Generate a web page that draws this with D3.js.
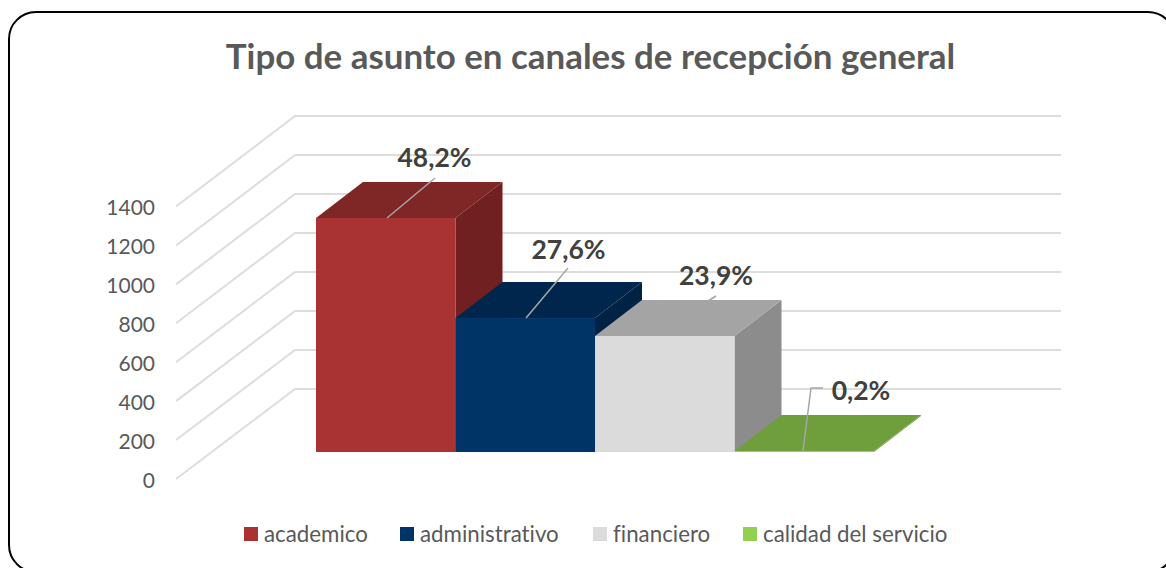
<!DOCTYPE html>
<html><head><meta charset="utf-8">
<script src="https://cdn.jsdelivr.net/npm/d3@7"></script>
<style>html,body{margin:0;padding:0;background:#fff;overflow:hidden}svg{display:block}text{font-family:Lato,"Open Sans",sans-serif;font-variant-ligatures:none}</style>
</head><body><svg id="c" width="1166" height="568"></svg>
<script>
const chartTitle = "Tipo de asunto en canales de recepción general";
const categories = ["academico","administrativo","financiero","calidad del servicio"];
const values = [1200,687,595,5];
const labels = ["48,2%","27,6%","23,9%","0,2%"];
const tickValues = [0,200,400,600,800,1000,1200,1400];
const frontColors = ["#A93333","#003366","#DBDBDB","#92D050"];
const topColors = ["#7F2626","#00264D","#A4A4A4","#6F9E3C"];
const sideColors = ["#702020","#002244","#8C8C8C","#6F9E3C"];

const svg = d3.select("#c");
svg.append("rect").attr("x",9).attr("y",12).attr("width",1166).attr("height",560).attr("rx",27)
  .attr("fill","#fff").attr("stroke","#000").attr("stroke-width",2);
svg.append("text").attr("x",590.5).attr("y",69).attr("text-anchor","middle").attr("font-size",34.9)
  .attr("font-weight",700).attr("fill","#595959").text(chartTitle);

// wall and floor projection
const yFront = d3.scaleLinear().domain([0,1400]).range([479,206.5]);
const yBack = d3.scaleLinear().domain([0,1400]).range([389,116]);
const yBar = d3.scaleLinear().domain([0,1400]).range([452,179]);
const x = d3.scaleBand().domain(categories).range([316,874]);
const depth = {dx:47, dy:-36};

const grid = svg.append("g").attr("fill","none").attr("stroke","#DDDDDD").attr("stroke-width",2);
tickValues.forEach(t=>{
  grid.append("path").attr("d",d3.line()([[176,yFront(t)],[295,yBack(t)],[1061,yBack(t)]]));
});

const axis = d3.axisLeft(yFront).tickValues(tickValues).tickSize(0).tickPadding(0).tickFormat(d3.format("d"));
const ax = svg.append("g").attr("transform","translate(155,1.5)").call(axis);
ax.select(".domain").remove();
ax.selectAll("text").attr("font-size",21).attr("fill","#595959").style("font-family","Lato");

const bars = svg.append("g");
categories.forEach((c,i)=>{
  const x0=x(c), x1=x0+x.bandwidth(), yT=yBar(values[i]), yB=yBar(0);
  const g=bars.append("g");
  g.append("path").attr("fill",sideColors[i]).attr("d",d3.line()([[x1,yT],[x1+depth.dx,yT+depth.dy],[x1+depth.dx,yB+depth.dy],[x1,yB]])+"Z");
  g.append("path").attr("fill",topColors[i]).attr("d",d3.line()([[x0,yT],[x0+depth.dx,yT+depth.dy],[x1+depth.dx,yT+depth.dy],[x1,yT]])+"Z");
  g.append("rect").attr("x",x0).attr("y",yT).attr("width",x.bandwidth()).attr("height",yB-yT).attr("fill",frontColors[i]);
});

// leader lines and labels
const labelPos = [[434.5,167],[568.5,259],[716,285],[861,400]];
const leaders = [
  [[387,218],[435,178]],
  [[526,318],[568,268]],
  [[708,301],[716,296]],
  [[803,451],[811,388],[823,388]]
];
const leaderG = svg.append("g").attr("fill","none").attr("stroke","#A6A6A6").attr("stroke-width",1.5);
leaders.forEach(l=>leaderG.append("path").attr("d",d3.line()(l)));
labels.forEach((t,i)=>{
  svg.append("text").attr("x",labelPos[i][0]).attr("y",labelPos[i][1]).attr("text-anchor","middle")
    .attr("font-size",26.5).attr("font-weight",700).attr("fill","#404040").text(t);
});

// legend
const legendX = [244,400,593,743];
categories.forEach((c,i)=>{
  svg.append("rect").attr("x",legendX[i]).attr("y",527).attr("width",14).attr("height",14).attr("fill",frontColors[i]);
  svg.append("text").attr("x",legendX[i]+20).attr("y",542).attr("font-size",22.3).attr("fill","#595959").text(c);
});
</script></body></html>
